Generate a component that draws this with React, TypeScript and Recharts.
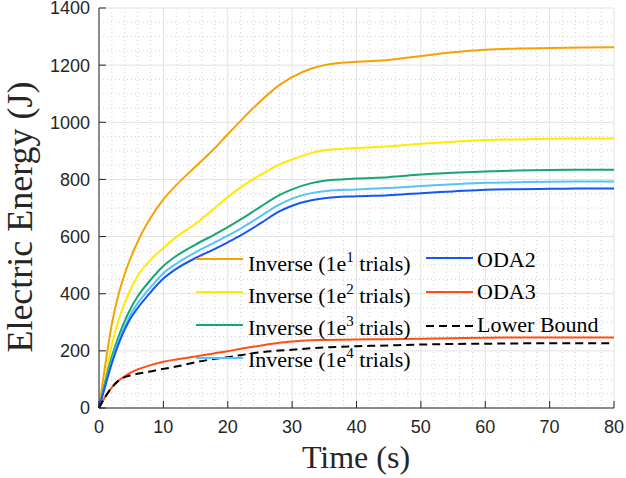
import React from 'react';
import { LineChart, Line, XAxis, YAxis, CartesianGrid } from 'recharts';

const time = [0, 1, 2, 3, 4, 5, 6, 8, 10, 12, 15, 18, 20, 22, 25, 28, 30, 33, 35, 40, 45, 50, 55, 60, 65, 70, 75, 80];
const inverse1e1 = [0, 155, 295, 395, 470, 530, 582, 665, 730, 780, 845, 910, 958, 1005, 1072, 1130, 1158, 1188, 1200, 1212, 1218, 1232, 1245, 1254, 1258, 1260, 1262, 1263];
const inverse1e2 = [0, 105, 222, 305, 368, 420, 462, 518, 560, 598, 645, 700, 738, 772, 815, 852, 870, 893, 902, 910, 916, 925, 932, 938, 940, 942, 943, 943];
const inverse1e3 = [0, 95, 180, 248, 305, 352, 390, 448, 497, 532, 572, 608, 633, 660, 703, 745, 765, 787, 795, 803, 808, 817, 823, 828, 831, 833, 834, 834];
const inverse1e4 = [0, 85, 166, 232, 285, 332, 366, 422, 472, 505, 545, 580, 603, 628, 670, 712, 733, 752, 759, 765, 770, 777, 783, 788, 790, 792, 793, 793];
const oda2 = [0, 80, 157, 222, 275, 318, 350, 405, 453, 487, 525, 557, 580, 604, 645, 688, 708, 727, 734, 741, 745, 752, 758, 764, 766, 767, 768, 768];
const oda3 = [0, 40, 72, 95, 111, 125, 135, 150, 162, 170, 180, 192, 199, 207, 218, 228, 233, 237, 238, 240, 241, 242, 244, 246, 247, 247, 247, 247];
const lowerBound = [0, 40, 72, 95, 108, 115, 120, 128, 137, 145, 160, 172, 178, 185, 195, 201, 204, 209, 212, 216, 219, 222, 224, 225, 226, 227, 227, 227];

const xTicks = [0, 10, 20, 30, 40, 50, 60, 70, 80];
const yTicks = [0, 200, 400, 600, 800, 1000, 1200, 1400];
const xMinor = [2, 4, 6, 8, 12, 14, 16, 18, 22, 24, 26, 28, 32, 34, 36, 38, 42, 44, 46, 48, 52, 54, 56, 58, 62, 64, 66, 68, 72, 74, 76, 78];
const yMinor = [50, 100, 150, 250, 300, 350, 450, 500, 550, 650, 700, 750, 850, 900, 950, 1050, 1100, 1150, 1250, 1300, 1350];

const seriesKeys = ['inv1', 'inv2', 'inv3', 'inv4', 'oda2', 'oda3', 'lb'];
const seriesColors = ['#F5A300', '#FFEA00', '#17A673', '#55C3F7', '#1457F5', '#FF5014', '#000000'];

const data = time.map((t, i) => ({
  t,
  inv1: inverse1e1[i],
  inv2: inverse1e2[i],
  inv3: inverse1e3[i],
  inv4: inverse1e4[i],
  oda2: oda2[i],
  oda3: oda3[i],
  lb: lowerBound[i],
}));

const tickFont = '"Liberation Sans", Arial, sans-serif';
const serifFont = '"Liberation Serif", "Times New Roman", serif';

const YTick = (props: any) => {
  const { x, y, payload } = props;
  const ax = x + 9;
  return (
    <g>
      <line x1={ax} x2={ax + 7} y1={y} y2={y} stroke="#262626" strokeWidth={1} />
      <text x={x} y={y} dy="0.355em" textAnchor="end" fontFamily={tickFont} fontSize={18} fill="#262626">
        {payload.value}
      </text>
    </g>
  );
};

const XTick = (props: any) => {
  const { x, y, payload } = props;
  const ay = y - 12;
  return (
    <g>
      <line x1={x} x2={x} y1={ay} y2={ay - 7} stroke="#262626" strokeWidth={1} />
      <text x={x} y={y} dy="0.71em" textAnchor="middle" fontFamily={tickFont} fontSize={18} fill="#262626">
        {payload.value}
      </text>
    </g>
  );
};

const Sup = ({ n }: { n: string }) => (
  <>
    <tspan fontSize={15} dy={-9}>{n}</tspan>
    <tspan dy={9}> trials)</tspan>
  </>
);

export default function App() {
  return (
    <div style={{ position: 'absolute', left: 0, top: 0, width: 626, height: 478, background: '#fff' }}>
      <LineChart width={626} height={478} data={data} margin={{ top: 8, right: 12, bottom: 0, left: 0 }}>
        <CartesianGrid stroke="#d2d2d2" strokeDasharray="1 3" horizontalValues={yMinor} verticalValues={xMinor} />
        <CartesianGrid stroke="#e2e2e2" strokeWidth={1} />
        <XAxis
          dataKey="t"
          type="number"
          domain={[0, 80]}
          ticks={xTicks}
          interval={0}
          tickSize={0}
          tickMargin={12}
          tick={<XTick />}
          axisLine={{ stroke: '#262626' }}
          height={70}
          label={{
            content: () => (
              <text x={356} y={468} textAnchor="middle" fontFamily={serifFont} fontSize={32} fill="#262626">
                Time (s)
              </text>
            ),
          }}
        />
        <YAxis
          type="number"
          domain={[0, 1400]}
          ticks={yTicks}
          interval={0}
          tickSize={0}
          tickMargin={9}
          tick={<YTick />}
          axisLine={{ stroke: '#262626' }}
          width={99}
          label={{
            content: () => (
              <text
                x={32}
                y={217}
                transform="rotate(-90 32 217)"
                textAnchor="middle"
                fontFamily={serifFont}
                fontSize={36}
                fill="#262626"
              >
                Electric Energy (J)
              </text>
            ),
          }}
        />
        {seriesKeys.map((k, i) => (
          <Line
            key={k}
            type="monotone"
            dataKey={k}
            stroke={seriesColors[i]}
            strokeWidth={2}
            strokeDasharray={k === 'lb' ? '8 5' : undefined}
            dot={false}
            activeDot={false}
            isAnimationActive={false}
          />
        ))}
      </LineChart>
      <svg
        width={626}
        height={478}
        style={{ position: 'absolute', left: 0, top: 0, pointerEvents: 'none' }}
        fontFamily={serifFont}
        fontSize={22}
      >
        <line x1={196} x2={243} y1={259} y2={259} stroke={seriesColors[0]} strokeWidth={2} />
        <text x={248} y={271} fill="#000">Inverse (1e<Sup n="1" /></text>
        <line x1={196} x2={243} y1={292} y2={292} stroke={seriesColors[1]} strokeWidth={2} />
        <text x={248} y={303} fill="#000">Inverse (1e<Sup n="2" /></text>
        <line x1={196} x2={243} y1={325} y2={325} stroke={seriesColors[2]} strokeWidth={2} />
        <text x={248} y={335} fill="#000">Inverse (1e<Sup n="3" /></text>
        <line x1={196} x2={243} y1={358} y2={358} stroke={seriesColors[3]} strokeWidth={2} />
        <text x={248} y={367} fill="#000">Inverse (1e<Sup n="4" /></text>

        <line x1={426} x2={473} y1={258} y2={258} stroke={seriesColors[4]} strokeWidth={2} />
        <text x={477} y={267} fill="#000">ODA2</text>
        <line x1={426} x2={473} y1={292} y2={292} stroke={seriesColors[5]} strokeWidth={2} />
        <text x={477} y={299} fill="#000">ODA3</text>
        <line x1={426} x2={473} y1={326} y2={326} stroke="#000" strokeWidth={2} strokeDasharray="8 5" />
        <text x={477} y={332} fill="#000">Lower Bound</text>
      </svg>
    </div>
  );
}
